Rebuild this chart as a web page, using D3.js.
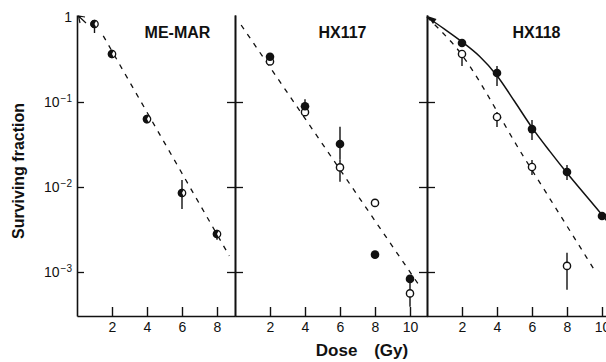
<!DOCTYPE html>
<html><head><meta charset="utf-8">
<script src="https://cdn.jsdelivr.net/npm/d3@7/dist/d3.min.js"></script>
<style>
body{margin:0;background:#fff;}
svg{display:block;font-family:"Liberation Sans",Arial,Helvetica,sans-serif;}
</style></head>
<body>
<svg id="chart" width="606" height="362"></svg>
<script>
// ---------- DATA ----------
const panelTitles = ["ME-MAR", "HX117", "HX118"];
const xTickValues1 = [2, 4, 6, 8];
const xTickValues2 = [2, 4, 6, 8, 10];
const xTickValues3 = [2, 4, 6, 8, 10];
const yTickValues = [1, 1e-1, 1e-2, 1e-3];
const yTickExponents = ["", "\u22121", "\u22122", "\u22123"];

// ME-MAR (half-filled symbols)
const meDose = [1, 2, 4, 6, 8];
const meSurv = [0.827, 0.367, 0.063, 0.0085, 0.0028];
const meErr = [[0.922, 0.648], [0.41, 0.33], [0.069, 0.057], [0.0121, 0.0055], [0.0031, 0.0024]];
const meFitDose = [1.5, 8.7];
const meFitSurv = [0.60, 0.00155];

// HX117
const h7Dose = [2, 4, 6, 8, 10];
const h7Filled = [0.34, 0.089, 0.032, 0.0016, 0.00083];
const h7FilledErr = [null, [0.108, 0.089], [0.051, 0.021], null, null];
const h7Open = [0.30, 0.076, 0.017, 0.0065, 0.00056];
const h7OpenErr = [null, null, [0.021, 0.0115], null, [0.00081, 0.00039]];
const h7FitDose = [0.35, 10.6];
const h7FitSurv = [0.805, 0.00066];

// HX118
const h8Dose = [2, 4, 6, 8, 10];
const h8Filled = [0.494, 0.219, 0.048, 0.015, 0.00456];
const h8FilledErr = [null, [0.265, 0.154], [0.0616, 0.0358], [0.0182, 0.0121], null];
const h8OpenDose = [2, 4, 6, 8];
const h8Open = [0.367, 0.0666, 0.0172, 0.00118];
const h8OpenErr = [[0.409, 0.265], [0.0762, 0.0508], [0.0208, 0.0138], [0.00168, 0.000617]];
const h8SolidDose = [0, 1, 2, 3, 4, 5, 6, 7, 8, 10, 11];
const h8SolidSurv = [1, 0.72, 0.51, 0.345, 0.204, 0.102, 0.050, 0.0266, 0.0146, 0.0047, 0.0026];
const h8DashDose = [0, 0.75, 1.5, 5.5, 9.6];
const h8DashSurv = [1, 0.70, 0.48, 0.0231, 0.00103];

// ---------- LAYOUT ----------
const svg = d3.select("#chart");
const pxPerGy = 17.5;
const yTop = 15, yBottom = 316;
const y = d3.scaleLog().domain([Math.pow(10, 2 / 85), Math.pow(10, -299 / 85)]).range([yTop, yBottom]);

const panels = [
  {x0: 77, max: 9.03, ticks: xTickValues1},
  {x0: 235, max: 11, ticks: xTickValues2},
  {x0: 427, max: 11, ticks: xTickValues3}
];
panels.forEach(p => {
  p.x = d3.scaleLinear().domain([0, p.max]).range([p.x0, p.x0 + pxPerGy * p.max]);
});

const ink = "#111";
const titleFont = "bold 16px 'Liberation Sans', Arial, sans-serif";

// ---------- AXES ----------
panels.forEach((p, i) => {
  const gx = svg.append("g").attr("transform", `translate(0,${yBottom})`)
    .call(d3.axisBottom(p.x).tickValues(p.ticks).tickSizeInner(-9).tickSizeOuter(0).tickPadding(6).tickFormat(d3.format("d")));
  gx.select(".domain").attr("stroke", ink).attr("stroke-width", 1.6);
  gx.selectAll(".tick line").attr("stroke", ink).attr("stroke-width", 1.4);
  gx.selectAll(".tick text").attr("font-size", 14).attr("fill", ink)
    .attr("font-family", "'Liberation Sans', Arial, sans-serif");

  if (i === 0) {
    const gy = svg.append("g").attr("transform", `translate(${p.x0},0)`)
      .call(d3.axisLeft(y).tickValues(yTickValues).tickSizeInner(-7).tickSizeOuter(0).tickPadding(5)
        .tickFormat(d => d === 1 ? "1" : "10"));
    gy.select(".domain").attr("stroke", ink).attr("stroke-width", 1.6);
    gy.selectAll(".tick line").attr("stroke", ink).attr("stroke-width", 1.3)
      .attr("opacity", d => d === 1 ? 0 : 1);
    gy.selectAll(".tick text").attr("font-size", 14).attr("fill", ink)
      .attr("font-family", "'Liberation Sans', Arial, sans-serif")
      .each(function(d) {
        const e = yTickExponents[yTickValues.indexOf(d)];
        if (e) {
          d3.select(this).append("tspan").attr("dx", 1).attr("dy", "-0.45em")
            .attr("font-size", 10).text(e);
        }
      });
  } else {
    [d3.axisLeft(y), d3.axisRight(y)].forEach(ax => {
      const g = svg.append("g").attr("transform", `translate(${p.x0},0)`)
        .call(ax.tickValues(yTickValues.slice(1)).tickSizeInner(8).tickSizeOuter(0).tickFormat(""));
      g.select(".domain").attr("stroke", ink).attr("stroke-width", 1.6);
      g.selectAll(".tick line").attr("stroke", ink).attr("stroke-width", 1.3);
    });
  }
});

// arrowheads at top of axes
{
  const x1 = panels[0].x(0), yy = y(1);
  svg.append("path").attr("d", `M${x1 + 8},${yy} L${x1 + 1.5},${yy - 1} L${x1 + 3},${yy + 6} M${x1 + 1.5},${yy - 1} L${x1 + 9},${yy + 6}`)
    .attr("fill", "none").attr("stroke", ink).attr("stroke-width", 1.2);
  const x3 = panels[2].x(0);
  svg.append("path").attr("d", `M${x3 + 0.5},${yy - 1} L${x3 + 6},${yy + 7} L${x3 + 9.5},${yy + 2} Z`)
    .attr("fill", ink);
}

// ---------- TITLES ----------
const titleX = [177.5, 342.5, 536.5];
panelTitles.forEach((t, i) => {
  svg.append("text").attr("x", titleX[i]).attr("y", 38).attr("text-anchor", "middle")
    .style("font", titleFont).attr("fill", ink).text(t);
});
svg.append("text").attr("transform", "translate(24,171) rotate(-90)").attr("text-anchor", "middle")
  .style("font", "bold 16px 'Liberation Sans', Arial, sans-serif").attr("fill", ink).text("Surviving fraction");
svg.append("text").attr("x", 362).attr("y", 356).attr("text-anchor", "middle")
  .style("font", "bold 17px 'Liberation Sans', Arial, sans-serif").attr("word-spacing", "12px")
  .attr("fill", ink).text("Dose (Gy)");

// ---------- LINES ----------
function drawLine(p, doses, survs, dashed, curve) {
  const line = d3.line().x(d => p.x(d[0])).y(d => y(d[1])).curve(curve || d3.curveLinear);
  svg.append("path").datum(doses.map((d, i) => [d, survs[i]]))
    .attr("d", line).attr("fill", "none").attr("stroke", ink)
    .attr("stroke-width", dashed ? 1.3 : 1.5)
    .attr("stroke-dasharray", dashed ? "5,6" : null);
}
drawLine(panels[0], meFitDose, meFitSurv, true);
drawLine(panels[1], h7FitDose, h7FitSurv, true);
drawLine(panels[2], h8SolidDose, h8SolidSurv, false, d3.curveCatmullRom.alpha(0.5));
drawLine(panels[2], h8DashDose, h8DashSurv, true, d3.curveMonotoneX);

// ---------- ERROR BARS ----------
function drawErr(p, doses, errs) {
  svg.append("g").selectAll("line").data(doses.map((d, i) => [d, errs[i]]).filter(d => d[1]))
    .join("line")
    .attr("x1", d => p.x(d[0])).attr("x2", d => p.x(d[0]))
    .attr("y1", d => y(d[1][0])).attr("y2", d => y(d[1][1]))
    .attr("stroke", ink).attr("stroke-width", 1.4);
}
drawErr(panels[0], meDose, meErr);
drawErr(panels[1], h7Dose, h7FilledErr);
drawErr(panels[1], h7Dose, h7OpenErr);
drawErr(panels[2], h8Dose, h8FilledErr);
drawErr(panels[2], h8OpenDose, h8OpenErr);

// ---------- POINTS ----------
function drawPts(p, doses, survs, type) {
  const data = doses.map((d, i) => [d, survs[i]]);
  const g = svg.append("g");
  if (type === "filled") {
    g.selectAll("circle").data(data).join("circle")
      .attr("cx", d => p.x(d[0])).attr("cy", d => y(d[1])).attr("r", 4.3).attr("fill", ink);
  } else if (type === "open") {
    g.selectAll("circle").data(data).join("circle")
      .attr("cx", d => p.x(d[0])).attr("cy", d => y(d[1])).attr("r", 3.6)
      .attr("fill", "#fff").attr("stroke", ink).attr("stroke-width", 1.4);
  } else {
    const arc = d3.arc().innerRadius(0).outerRadius(4.2).startAngle(Math.PI * 0.85).endAngle(Math.PI * 2.15);
    const gg = g.selectAll("g").data(data).join("g")
      .attr("transform", d => `translate(${p.x(d[0])},${y(d[1])})`);
    gg.append("circle").attr("r", 3.7).attr("fill", "#fff").attr("stroke", ink).attr("stroke-width", 1.3);
    gg.append("path").attr("d", arc()).attr("fill", ink);
  }
}
drawPts(panels[0], meDose, meSurv, "half");
drawPts(panels[1], h7Dose, h7Open, "open");
drawPts(panels[1], h7Dose, h7Filled, "filled");
drawPts(panels[2], h8OpenDose, h8Open, "open");
drawPts(panels[2], h8Dose, h8Filled, "filled");
</script>
</body></html>
